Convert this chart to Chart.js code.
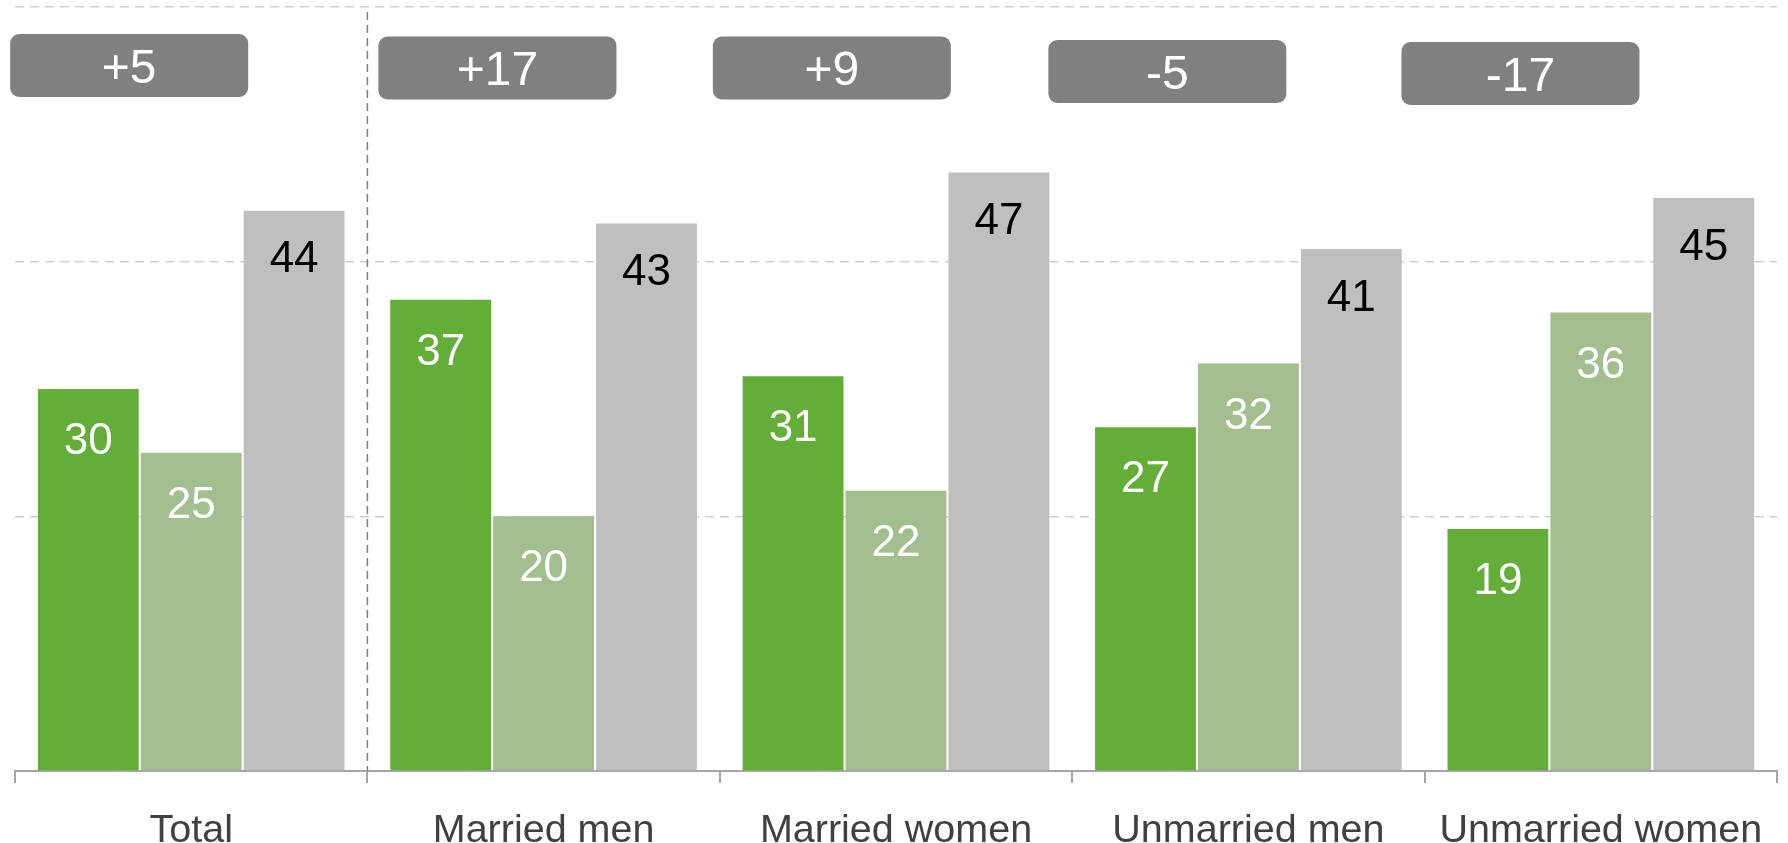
<!DOCTYPE html>
<html>
<head>
<meta charset="utf-8">
<style>
  html, body { margin: 0; padding: 0; background: #ffffff; }
  #wrap { width: 1788px; height: 843px; position: relative; }
</style>
<script src="https://cdn.jsdelivr.net/npm/chart.js@4.4.1/dist/chart.umd.min.js"></script>
</head>
<body>
<div id="wrap"><canvas id="c" width="1788" height="843"></canvas></div>
<script>
// ---- data ----
const categories = ["Total", "Married men", "Married women", "Unmarried men", "Unmarried women"];
const seriesA = [30, 37, 31, 27, 19];   // dark green
const seriesB = [25, 20, 22, 32, 36];   // light green
const seriesC = [44, 43, 47, 41, 45];   // grey
const gapLabels = ["+5", "+17", "+9", "-5", "-17"];
const yTicks = [20, 40, 60];

// ---- layout / style (not data) ----
const boxOffsetFrac = [-0.176, -0.131, -0.182, -0.230, -0.228];
const boxTopPx = [34, 36.5, 36.5, 40, 42];
const FONT = "'Liberation Sans', Arial, sans-serif";

const valueLabelPlugin = {
  id: 'valueLabels',
  afterDatasetsDraw(chart) {
    const ctx = chart.ctx;
    ctx.save();
    ctx.font = "44px " + FONT;
    ctx.textAlign = 'center';
    ctx.textBaseline = 'middle';
    chart.data.datasets.forEach((ds, di) => {
      const meta = chart.getDatasetMeta(di);
      meta.data.forEach((el, i) => {
        ctx.fillStyle = ds.labelColor;
        ctx.fillText(String(ds.data[i]), el.x, el.y + ds.labelOffset);
      });
    });
    ctx.restore();
  }
};

const annotPlugin = {
  id: 'annot',
  afterDraw(chart) {
    const ctx = chart.ctx;
    const xs = chart.scales.x;
    const area = chart.chartArea;
    const catW = xs.getPixelForValue(1) - xs.getPixelForValue(0);
    // divider
    ctx.save();
    const dx = (xs.getPixelForValue(0) + xs.getPixelForValue(1)) / 2;
    ctx.strokeStyle = '#7f7f7f';
    ctx.lineWidth = 1.5;
    ctx.setLineDash([8, 5]);
    ctx.beginPath();
    ctx.moveTo(dx, area.top + 5);
    ctx.lineTo(dx, area.bottom);
    ctx.stroke();
    ctx.restore();
    // boxes
    ctx.save();
    const w = 238, h = 63, r = 9;
    gapLabels.forEach((lab, i) => {
      const cx = xs.getPixelForValue(i) + boxOffsetFrac[i] * catW;
      const top = boxTopPx[i];
      const x0 = cx - w / 2;
      ctx.fillStyle = '#808080';
      ctx.beginPath();
      ctx.roundRect(x0, top, w, h, r);
      ctx.fill();
      ctx.fillStyle = '#ffffff';
      ctx.font = "48px " + FONT;
      ctx.textAlign = 'center';
      ctx.textBaseline = 'middle';
      ctx.fillText(lab, cx, top + h / 2 + 4);
    });
    ctx.restore();
  }
};

new Chart(document.getElementById('c'), {
  type: 'bar',
  data: {
    labels: categories,
    datasets: [
      { data: seriesA, backgroundColor: '#63ad38', labelColor: '#ffffff', labelOffset: 53 },
      { data: seriesB, backgroundColor: '#a3be8f', labelColor: '#ffffff', labelOffset: 53 },
      { data: seriesC, backgroundColor: '#bfbfbf', labelColor: '#000000', labelOffset: 49.5 }
    ]
  },
  options: {
    responsive: false,
    animation: false,
    events: [],
    layout: { padding: { top: 7, left: 15, right: 11, bottom: -35.5 } },
    datasets: { bar: { categoryPercentage: 0.876, barPercentage: 0.98 } },
    plugins: { legend: { display: false }, tooltip: { enabled: false } },
    scales: {
      x: {
        afterFit(scale) { scale.paddingLeft = 0; scale.paddingRight = 0; },
        grid: {
          offset: true,
          drawOnChartArea: false,
          drawTicks: true,
          tickLength: 12,
          color: '#a6a6a6',
          lineWidth: 2
        },
        border: { display: true, color: '#a6a6a6', width: 2 },
        ticks: {
          color: '#404040',
          font: { family: FONT, size: 39.5, lineHeight: 1 },
          padding: 28,
          maxRotation: 0,
          autoSkip: false
        }
      },
      y: {
        min: 0,
        max: 60,
        afterBuildTicks(scale) { scale.ticks = [0].concat(yTicks).map(v => ({ value: v })); },
        grid: {
          drawTicks: false,
          color: (c) => (c.tick && c.tick.value === 0) ? 'rgba(0,0,0,0)' : '#cfcfcf',
          lineWidth: 1.5
        },
        border: { display: false, dash: [9, 6] },
        ticks: { display: false }
      }
    }
  },
  plugins: [valueLabelPlugin, annotPlugin]
});
</script>
</body>
</html>
